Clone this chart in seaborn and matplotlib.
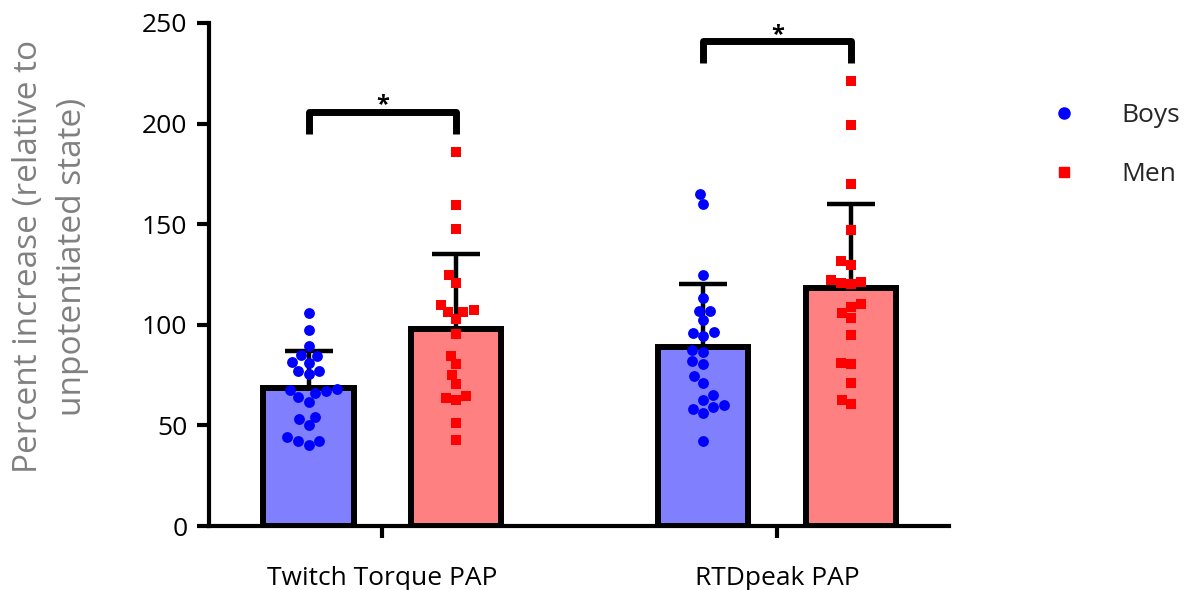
import numpy as np
import pandas as pd
import matplotlib
matplotlib.use("Agg")
import matplotlib.pyplot as plt
from matplotlib.lines import Line2D
import seaborn as sns

# Measures and groups
conditions = ["Twitch Torque PAP", "RTDpeak PAP"]
groups = ["Boys", "Men"]

# Individual percent increases
boys_twitch = [105.8, 97.2, 89.6, 84.7, 85.2, 81.2, 81.5, 76.9, 75.5, 77.2, 67.5, 66.1,
               68.3, 67.0, 64.1, 61.7, 53.1, 54.4, 50.1, 42.3, 40.2, 42.3, 44.1]
men_twitch = [185.7, 159.6, 147.7, 124.8, 121.0, 107.5, 106.2, 103.0, 106.6, 109.6,
              95.6, 84.7, 80.4, 74.9, 70.4, 64.8, 62.5, 63.8, 51.4, 42.5]
boys_rtd = [165.0, 159.9, 124.8, 113.4, 107.1, 107.1, 102.2, 96.1, 94.4, 96.4, 86.5, 87.3,
            80.7, 81.8, 74.4, 71.1, 65.0, 60.0, 58.0, 56.2, 59.2, 62.5, 42.3]
men_rtd = [221.2, 199.4, 170.0, 147.2, 129.8, 131.8, 122.4, 120.7, 120.4, 121.4, 108.8,
           103.5, 106.0, 110.3, 95.1, 80.4, 81.2, 71.1, 60.4, 62.8]

# Significance brackets (top of bracket per measure)
bracket_top = [206, 241]
bracket_drop = 11
sig_labels = ["*", "*"]

y_ticks = [0, 50, 100, 150, 200, 250]
y_label = "Percent increase (relative to\nunpotentiated state)"

bar_colors = {"Boys": "#8080FF", "Men": "#FF8080"}
point_colors = {"Boys": "#0000FF", "Men": "#FF0000"}
point_markers = {"Boys": "o", "Men": "s"}
offsets = {"Boys": -0.187, "Men": 0.187}

series = {
    ("Twitch Torque PAP", "Boys"): boys_twitch,
    ("Twitch Torque PAP", "Men"): men_twitch,
    ("RTDpeak PAP", "Boys"): boys_rtd,
    ("RTDpeak PAP", "Men"): men_rtd,
}

rows = []
for ci, cond in enumerate(conditions):
    for grp in groups:
        for v in series[(cond, grp)]:
            rows.append({"condition": cond, "group": grp, "value": v,
                         "pos": ci + offsets[grp]})
df = pd.DataFrame(rows)

sns.set_style("ticks")
plt.rcParams["font.family"] = ["Open Sans", "DejaVu Sans"]

W, H = 1197, 590
fig = plt.figure(figsize=(W / 100, H / 100), dpi=100)
ax = fig.add_axes([209 / W, 1 - 526 / H, (949 - 209) / W, (526 - 23) / H])

# Mean bars
sns.barplot(data=df, x="pos", y="value", hue="group", hue_order=groups,
            palette=bar_colors, saturation=1, native_scale=True, dodge=False,
            errorbar=None, width=0.61, edgecolor="black", linewidth=4.3,
            legend=False, ax=ax, zorder=2)

# Upward SD error bars
stats = df.groupby("pos")["value"].agg(["mean", "std"]).reset_index()
ax.errorbar(stats["pos"], stats["mean"],
            yerr=[np.zeros(len(stats)), stats["std"].to_numpy()],
            fmt="none", ecolor="black", elinewidth=3.2, capsize=17.6,
            capthick=3.2, zorder=3)

# Individual points
for grp in groups:
    sub = df[df["group"] == grp]
    sns.swarmplot(data=sub, x="pos", y="value", native_scale=True,
                  color=point_colors[grp], marker=point_markers[grp],
                  size=7.8 if grp == "Boys" else 7.2, linewidth=0,
                  ax=ax, zorder=4)

# Significance brackets
for ci, cond in enumerate(conditions):
    x0 = ci + offsets["Boys"]
    x1 = ci + offsets["Men"]
    yt = bracket_top[ci]
    yb = yt - bracket_drop
    ax.plot([x0, x0, x1, x1], [yb, yt, yt, yb], color="black", lw=5,
            solid_joinstyle="round", solid_capstyle="butt", zorder=5)
    ax.text((x0 + x1) / 2, yt, sig_labels[ci], ha="center", va="baseline",
            fontsize=17, fontweight="bold", color="black")

ax.set_xlim(-0.439, 1.435)
ax.set_ylim(0, 250)
ax.set_xticks(range(len(conditions)))
ax.set_xticklabels(conditions)
ax.set_yticks(y_ticks)
ax.set_xlabel("")
ax.set_ylabel(y_label, fontsize=24, color="#808080", linespacing=1.45)
ax.yaxis.set_label_coords(-0.162, 0.535)

sns.despine(ax=ax)
for side in ["left", "bottom"]:
    ax.spines[side].set_linewidth(3)
    ax.spines[side].set_color("black")
ax.tick_params(axis="both", width=3, length=8.6, color="black",
               labelsize=19, labelcolor="black")
ax.tick_params(axis="y", pad=7)
ax.tick_params(axis="x", pad=20)

handles = [Line2D([], [], marker=point_markers[g], color=point_colors[g],
                  linestyle="none", markersize=8 if g == "Boys" else 7.5)
           for g in groups]
ax.legend(handles, groups, loc="upper left", bbox_to_anchor=(1.137, 0.840),
          frameon=False, fontsize=19, handlelength=1, handletextpad=1.7,
          labelspacing=1.28, borderpad=0, borderaxespad=0)

fig.savefig("out.png", dpi=100)
